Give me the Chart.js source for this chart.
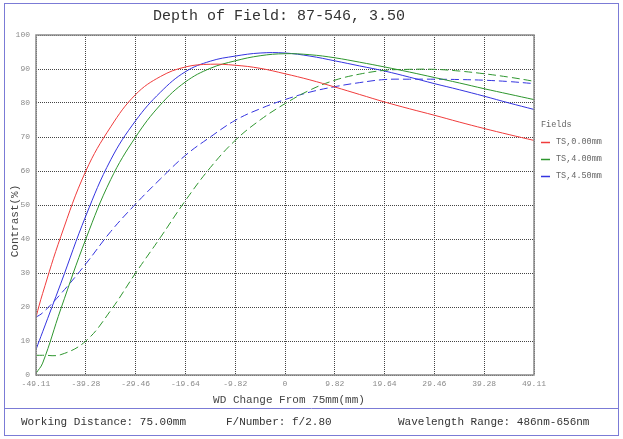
<!DOCTYPE html>
<html>
<head>
<meta charset="utf-8">
<script src="https://cdn.jsdelivr.net/npm/chart.js@4"></script>
<style>
  html, body { margin: 0; padding: 0; background: #fff; }
  canvas { display: block; }
</style>
</head>
<body>
<canvas id="dof-chart" width="623" height="439"></canvas>
<script>
// focus shift (mm) and contrast (%)
const wdChange = [-49.11, -47.8, -44.2, -39.28, -34.37, -29.46, -24.55, -19.64, -14.73, -9.82, -4.91, 0, 4.91, 9.82, 14.73, 19.64, 24.55, 29.46, 34.37, 39.28, 44.2, 49.11];
const field0 = [17.1, 24, 40.8, 60, 73, 82.5, 87.8, 90.6, 91.4, 91.1, 90.2, 88.6, 86.8, 84.7, 82.5, 80.3, 78.3, 76.4, 74.4, 72.5, 70.7, 69];
const field4T = [0.5, 3.5, 19.5, 40, 57.5, 70, 79.5, 86.2, 90.2, 92.4, 93.9, 94.5, 94.2, 93.3, 92, 90.6, 89.1, 87.5, 85.9, 84.2, 82.6, 81];
const field4S = [5.8, 5.8, 6, 10, 19, 30, 40.5, 51.3, 61, 69, 75, 79.8, 83.8, 86.7, 88.5, 89.6, 89.9, 89.9, 89.4, 88.6, 87.6, 86.4];
const field45T = [7.5, 12.7, 27, 46.8, 63.3, 74.8, 83.2, 89.2, 92.3, 93.8, 94.7, 94.7, 93.8, 92.4, 90.9, 89.4, 87.6, 85.7, 83.9, 82, 80, 78.1];
const field45S = [17, 18.3, 23.9, 32.7, 42.2, 50.3, 57.7, 64.6, 70, 74.9, 78.3, 81, 83.2, 84.8, 86, 86.9, 87, 87, 86.9, 86.7, 86.3, 85.7];

const xTicks = [-49.11, -39.28, -29.46, -19.64, -9.82, 0, 9.82, 19.64, 29.46, 39.28, 49.11];
const yTicks = [0, 10, 20, 30, 40, 50, 60, 70, 80, 90, 100];
const fieldLabels = ['TS,0.00mm', 'TS,4.00mm', 'TS,4.50mm'];
const fieldColors = ['#f03c3c', '#2e962e', '#3434e0'];

const MONO = '"Liberation Mono", "Courier New", monospace';

function pts(values) {
    return values.map((v, i) => ({ x: wdChange[i], y: v }));
}

function series(label, values, color, dashed) {
    return {
        label: label,
        data: pts(values),
        borderColor: color,
        borderWidth: 1,
        borderDash: dashed ? [8, 4] : [],
        pointRadius: 0,
        fill: false,
        tension: 0.4
    };
}

// frame, titles, legend and footer
const decorations = {
    id: 'decorations',
    afterDraw(chart) {
        const ctx = chart.ctx;
        const a = chart.chartArea;
        ctx.save();

        // plot frame
        ctx.strokeStyle = '#8a8a8a';
        ctx.lineWidth = 1.5;
        ctx.strokeRect(a.left, a.top, a.right - a.left, a.bottom - a.top);

        // outer frame + footer separator
        ctx.strokeStyle = '#7b7bd6';
        ctx.lineWidth = 1;
        ctx.strokeRect(4.5, 3.5, 614, 432);
        ctx.beginPath();
        ctx.moveTo(4.5, 408.5);
        ctx.lineTo(618.5, 408.5);
        ctx.stroke();

        ctx.textBaseline = 'middle';

        // title
        ctx.fillStyle = '#333';
        ctx.font = '15px ' + MONO;
        ctx.textAlign = 'center';
        ctx.fillText('Depth of Field: 87-546, 3.50', 279, 16);

        // axis titles
        ctx.font = '11px ' + MONO;
        ctx.fillStyle = '#444';
        ctx.fillText('WD Change From 75mm(mm)', 289, 400);
        ctx.save();
        ctx.translate(15, 221);
        ctx.rotate(-Math.PI / 2);
        ctx.fillText('Contrast(%)', 0, 0);
        ctx.restore();

        // legend
        ctx.textAlign = 'left';
        ctx.font = '8.5px ' + MONO;
        ctx.fillStyle = '#666';
        ctx.fillText('Fields', 541, 125);
        fieldLabels.forEach((lab, i) => {
            const y = 142 + 17 * i;
            ctx.strokeStyle = fieldColors[i];
            ctx.lineWidth = 1.5;
            ctx.beginPath();
            ctx.moveTo(541, y + 0.5);
            ctx.lineTo(550, y + 0.5);
            ctx.stroke();
            ctx.fillStyle = '#666';
            ctx.fillText(lab, 556, y);
        });

        // footer
        ctx.font = '11px ' + MONO;
        ctx.fillStyle = '#333';
        ctx.fillText('Working Distance: 75.00mm', 21, 422);
        ctx.fillText('F/Number: f/2.80', 226, 422);
        ctx.fillText('Wavelength Range: 486nm-656nm', 398, 422);

        ctx.restore();
    }
};

window.addEventListener('DOMContentLoaded', () => {
    const ctx = document.getElementById('dof-chart').getContext('2d');
    new Chart(ctx, {
        type: 'line',
        data: {
            datasets: [
                series('TS,0.00mm', field0, fieldColors[0], false),
                series('T 4.00mm', field4T, fieldColors[1], false),
                series('S 4.00mm', field4S, fieldColors[1], true),
                series('T 4.50mm', field45T, fieldColors[2], false),
                series('S 4.50mm', field45S, fieldColors[2], true)
            ]
        },
        options: {
            responsive: false,
            animation: false,
            devicePixelRatio: 1,
            layout: { padding: { left: 0, top: 35, right: 89, bottom: 44 } },
            plugins: {
                legend: { display: false },
                title: { display: false },
                tooltip: { enabled: false }
            },
            scales: {
                x: {
                    type: 'linear',
                    min: -49.11,
                    max: 49.11,
                    afterBuildTicks: s => { s.ticks = xTicks.map(v => ({ value: v })); },
                    afterFit: s => { s.height = 20; },
                    ticks: {
                        autoSkip: false,
                        maxRotation: 0,
                        padding: 4,
                        color: '#8a8a8a',
                        font: { family: MONO, size: 8 },
                        callback: v => String(v)
                    },
                    grid: { color: '#444', lineWidth: 1, drawTicks: false },
                    border: { display: false, dash: [1, 1] }
                },
                y: {
                    min: 0,
                    max: 100,
                    afterBuildTicks: s => { s.ticks = yTicks.map(v => ({ value: v })); },
                    afterFit: s => { s.width = 36; },
                    ticks: {
                        padding: 6,
                        color: '#8a8a8a',
                        font: { family: MONO, size: 8 }
                    },
                    grid: { color: '#444', lineWidth: 1, drawTicks: false },
                    border: { display: false, dash: [1, 1] }
                }
            }
        },
        plugins: [decorations]
    });
});
</script>
</body>
</html>
